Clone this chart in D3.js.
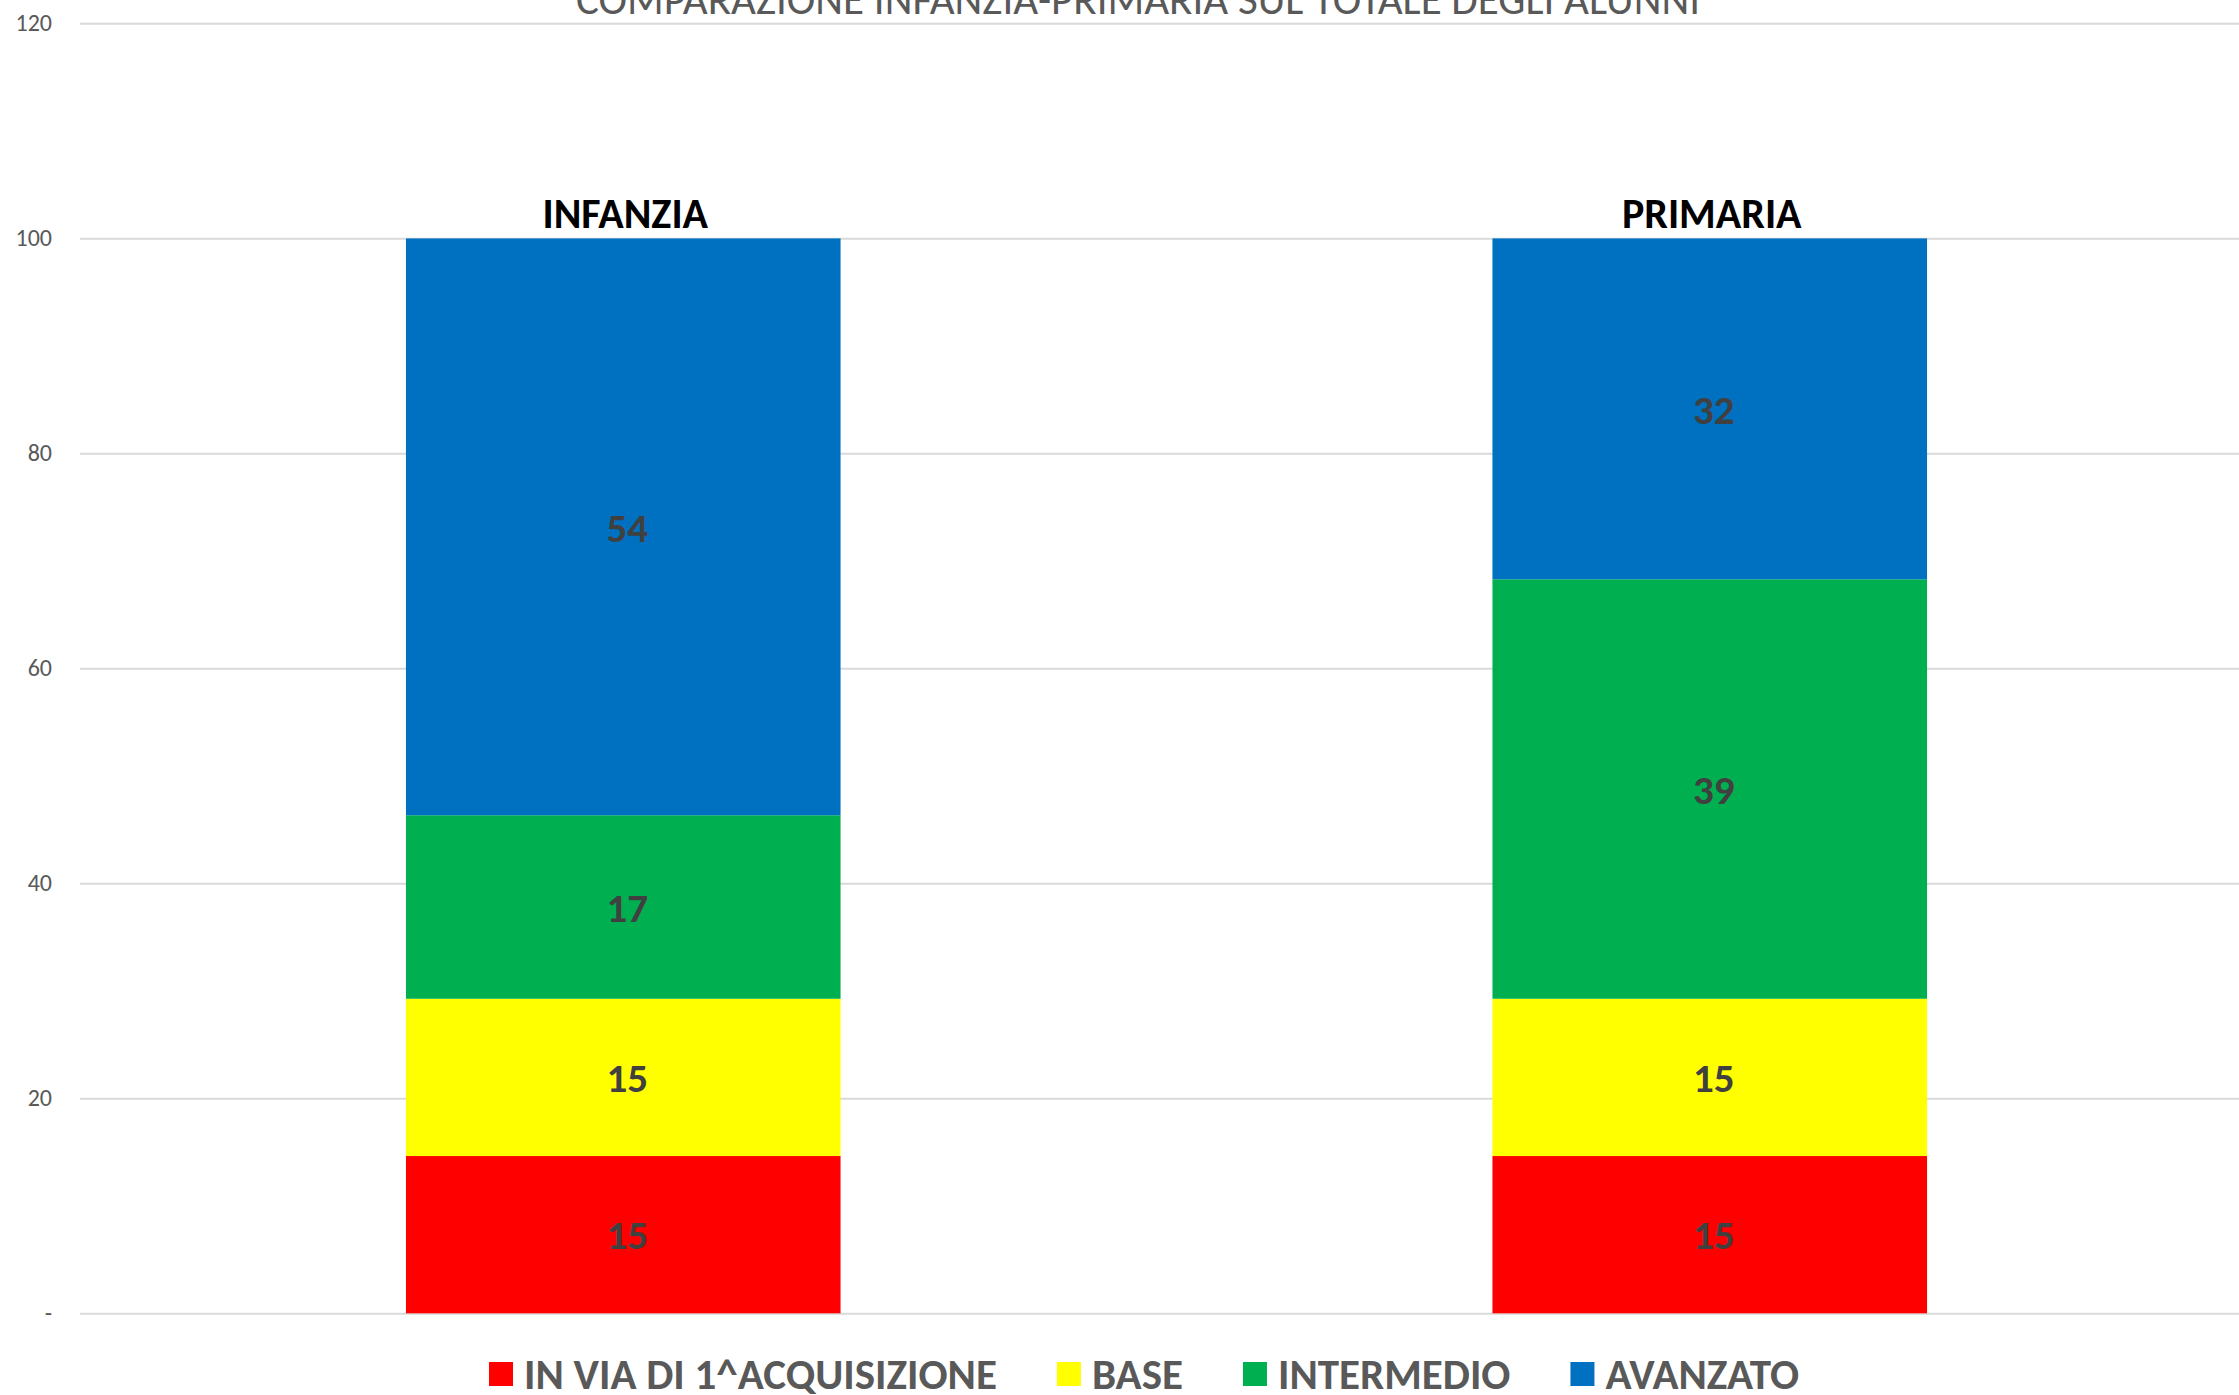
<!DOCTYPE html>
<html lang="it">
<head>
<meta charset="utf-8">
<title>Comparazione Infanzia-Primaria</title>
<script src="https://cdn.jsdelivr.net/npm/d3@7"></script>
<style>
  html, body { margin: 0; padding: 0; background: #ffffff; }
  svg { display: block; font-family: Carlito, Calibri, Lato, "Open Sans", sans-serif; }
</style>
</head>
<body>
<svg id="chart" width="2239" height="1395"></svg>
<script>
// Ordini di scuola (categorie)
const categories = ["INFANZIA", "PRIMARIA"];

// Livelli di apprendimento (serie, dal basso verso l'alto)
const levels = ["IN VIA DI 1^ACQUISIZIONE", "BASE", "INTERMEDIO", "AVANZATO"];
const levelColors = ["#FF0000", "#FFFF00", "#00B050", "#0070C0"];

// Percentuali sul totale degli alunni, per livello
const infanziaValues = [14.63, 14.63, 17.07, 53.66];
const primariaValues = [14.63, 14.63, 39.02, 31.71];

// Etichette dell'asse verticale
const yTicks = [0, 20, 40, 60, 80, 100, 120];
const yTickLabels = ["-", "20", "40", "60", "80", "100", "120"];

const titleText = "COMPARAZIONE INFANZIA-PRIMARIA SUL TOTALE DEGLI ALUNNI";

const rows = categories.map((c, i) => {
  const vals = [infanziaValues, primariaValues][i];
  const row = { category: c };
  levels.forEach((l, j) => { row[l] = vals[j]; });
  return row;
});

const svg = d3.select("#chart");
const plot = { left: 80, right: 2253, top: 23.3, bottom: 1313.3 };

const x = d3.scaleBand()
  .domain(categories)
  .range([plot.left, plot.right])
  .paddingInner(0.6)
  .paddingOuter(0.3);

const y = d3.scaleLinear()
  .domain([0, 120])
  .range([plot.bottom, plot.top]);

const color = d3.scaleOrdinal().domain(levels).range(levelColors);

// Griglia e etichette dell'asse Y
const yAxis = d3.axisLeft(y)
  .tickValues(yTicks)
  .tickFormat((d, i) => yTickLabels[i])
  .tickSizeInner(-(plot.right - plot.left))
  .tickSizeOuter(0)
  .tickPadding(28);

const gy = svg.append("g")
  .attr("transform", `translate(${plot.left},0)`)
  .call(yAxis);
gy.select(".domain").remove();
gy.selectAll(".tick line").attr("stroke", "#d9d9d9").attr("stroke-width", 2);
gy.selectAll(".tick text")
  .attr("fill", "#595959")
  .style("font-size", "24px")
  .style("font-family", "Carlito, Calibri, Lato, sans-serif");

// Titolo
svg.append("text")
  .attr("x", 1138)
  .attr("y", 14)
  .attr("text-anchor", "middle")
  .attr("fill", "#595959")
  .style("font-size", "43px")
  .text(titleText);

// Barre in pila
const stacked = d3.stack().keys(levels)(rows);

const layer = svg.append("g").selectAll("g")
  .data(stacked)
  .join("g")
  .attr("fill", d => color(d.key));

layer.selectAll("rect")
  .data(d => d.map(p => ({ key: d.key, p })))
  .join("rect")
  .attr("x", d => x(d.p.data.category))
  .attr("width", x.bandwidth())
  .attr("y", d => y(d.p[1]))
  .attr("height", d => y(d.p[0]) - y(d.p[1]));

// Valori dentro i segmenti
const fmt = d3.format(".0f");
layer.selectAll("text")
  .data(d => d.map(p => ({ key: d.key, p })))
  .join("text")
  .attr("x", d => x(d.p.data.category) + x.bandwidth() / 2 + 4)
  .attr("y", d => y((d.p[0] + d.p[1]) / 2))
  .attr("dy", "0.36em")
  .attr("text-anchor", "middle")
  .attr("fill", "#404040")
  .style("font-weight", "bold")
  .style("font-size", "41px")
  .text(d => fmt(d.p[1] - d.p[0]));

// Nomi delle categorie sopra le barre
svg.append("g").selectAll("text")
  .data(rows)
  .join("text")
  .attr("x", d => x(d.category) + x.bandwidth() / 2 + 2)
  .attr("y", d => y(d3.sum(levels, l => d[l])) - 10)
  .attr("text-anchor", "middle")
  .attr("fill", "#000000")
  .style("font-weight", "bold")
  .style("font-size", "42px")
  .text(d => d.category);

// Legenda
const legend = svg.append("g");
const items = legend.selectAll("g")
  .data(levels)
  .join("g");
items.append("rect")
  .attr("width", 24)
  .attr("height", 24)
  .attr("y", -12)
  .attr("fill", d => color(d));
items.append("text")
  .attr("x", 35)
  .attr("dy", "0.36em")
  .attr("fill", "#595959")
  .style("font-weight", "bold")
  .style("font-size", "43px")
  .text(d => d);

let cursor = 0;
items.each(function () {
  const g = d3.select(this);
  g.attr("transform", `translate(${cursor},0)`);
  cursor += 35 + g.select("text").node().getComputedTextLength() + 60;
});
const legendWidth = cursor - 60;
legend.attr("transform", `translate(${1144 - legendWidth / 2},1374)`);
</script>
</body>
</html>
